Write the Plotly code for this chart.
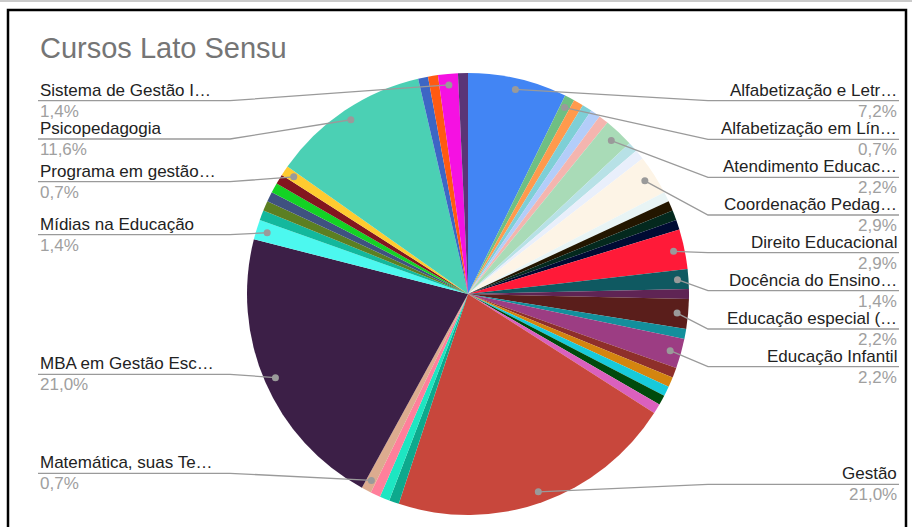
import math
import plotly.graph_objects as go

# ---------------- data ----------------
categories = [
    "Alfabetização e Letramento", "Alfabetização em Língua Portuguesa", "Análise do Comportamento",
    "Arte-Educação", "Artes Visuais", "Atendimento Clínico", "Atendimento Educacional Especializado",
    "Avaliação Educacional", "Contação de Histórias", "Coordenação Pedagógica", "Currículo e Avaliação",
    "Desenvolvimento Infantil", "Didática", "Dificuldades de Aprendizagem", "Direito Educacional",
    "Docência do Ensino Superior", "Educação a Distância", "Educação especial (Inclusiva)",
    "Educação Física", "Educação Infantil", "Educação Musical", "Ensino de Ciências",
    "Ensino de Língua Portuguesa", "Filosofia da Educação", "Geografia", "Gestão", "Gestão Escolar",
    "História", "Libras", "Matemática, suas Tecnologias", "MBA em Gestão Escolar", "Mídias na Educação",
    "Neuropsicopedagogia", "Orientação Educacional", "Pedagogia Empresarial", "Pedagogia Hospitalar",
    "Planejamento Educacional", "Programa em gestão escolar", "Psicopedagogia", "Psicopedagogia Clínica",
    "Psicopedagogia Institucional", "Sistema de Gestão Integrada", "Tecnologias Educacionais",
]
values = [
    10, 1, 1, 1, 1, 1, 3, 1, 1, 4, 1, 1, 1, 1, 4,
    2, 1, 3, 1, 3, 1, 1, 1, 1, 1, 29, 1, 1, 1, 1, 29, 2,
    1, 1, 1, 1, 1, 1, 16, 1, 1, 2, 1,
]
colors = [
    "#4285F4", "#6FBF83", "#FF9A4D", "#7ECFD6", "#B3CDF9", "#F4B5AF", "#A9DBB7", "#B7E1E6",
    "#E9EFFB", "#FDF4E6", "#E8F4F5", "#231600", "#04291E", "#000B33", "#FF1A38", "#0F5961",
    "#5F2454", "#5A1E1B", "#138F9C", "#9C3D83", "#8E2F2A", "#D4850F", "#17CADB", "#004A0C",
    "#DA60BE", "#C8473C", "#0DA98D", "#1DE6C2", "#FF7F9B", "#DCAB8F", "#3C1F47", "#4CF8EF",
    "#13B89D", "#5C7F22", "#3F5280", "#13D324", "#83161F", "#FFCB30", "#4BD0B4", "#3D66C5",
    "#FF5A12", "#F511E2", "#5A3577",
]
# labelled slices: (index, side, shown text)
label_index = [41, 38, 37, 31, 30, 29, 0, 1, 6, 9, 14, 15, 17, 19, 25]
label_side = ["L", "L", "L", "L", "L", "L", "R", "R", "R", "R", "R", "R", "R", "R", "R"]
label_text = [
    "Sistema de Gestão I…", "Psicopedagogia", "Programa em gestão…", "Mídias na Educação",
    "MBA em Gestão Esc…", "Matemática, suas Te…",
    "Alfabetização e Letr…", "Alfabetização em Lín…", "Atendimento Educac…", "Coordenação Pedag…",
    "Direito Educacional", "Docência do Ensino…", "Educação especial (…", "Educação Infantil", "Gestão",
]
title_text = "Cursos Lato Sensu"

# ---------------- layout constants (pixels) ----------------
W, H = 912, 527
CX, CY, R = 468, 294, 221
label_line_y = [100.7, 139, 181.7, 234.7, 374.3, 473.3,
                100.7, 139.3, 177.3, 215, 252.7, 290.7, 329, 366.7, 484.3]
LEFT_X, RIGHT_X = 38, 899
ELBOW_L, ELBOW_R = 230, 708
LINE_COLOR = "#9a9a9a"
FONT = "Liberation Sans, Arial, sans-serif"
FS = 17


def px(x):
    return x / W


def py(y):
    return 1 - y / H


total = sum(values)

fig = go.Figure(go.Pie(
    labels=categories, values=values,
    marker=dict(colors=colors, line=dict(width=0)),
    sort=False, direction="clockwise", rotation=0,
    textinfo="none", hoverinfo="label+value+percent",
    domain=dict(x=[px(CX - R), px(CX + R)], y=[py(CY + R), py(CY - R)]),
    showlegend=False,
))

shapes = []
annotations = []

cum = []
s = 0
for v in values:
    cum.append(s)
    s += v

for idx, side, txt, ly in zip(label_index, label_side, label_text, label_line_y):
    v = values[idx]
    mid = (cum[idx] + v / 2) / total * 2 * math.pi
    dx = CX + 0.95 * R * math.sin(mid)
    dy = CY - 0.95 * R * math.cos(mid)
    if side == "L":
        pts = [(LEFT_X, ly), (ELBOW_L, ly), (dx, dy)]
        xa, xanchor = LEFT_X, "left"
    else:
        pts = [(RIGHT_X, ly), (ELBOW_R, ly), (dx, dy)]
        xa, xanchor = RIGHT_X, "right"
    path = "M " + " L ".join(f"{px(a):.5f},{py(b):.5f}" for a, b in pts)
    shapes.append(dict(type="path", path=path, xref="paper", yref="paper",
                       line=dict(color=LINE_COLOR, width=1.3), layer="above"))
    rr = 3.5
    shapes.append(dict(type="circle", xref="paper", yref="paper",
                       x0=px(dx - rr), x1=px(dx + rr), y0=py(dy + rr), y1=py(dy - rr),
                       fillcolor=LINE_COLOR, line=dict(width=0), layer="above"))
    pct = f"{v / total * 100:.1f}".replace(".", ",") + "%"
    annotations.append(dict(text=txt, x=px(xa), y=py(ly - 10.5), xref="paper", yref="paper",
                            xanchor=xanchor, yanchor="middle", showarrow=False,
                            font=dict(family=FONT, size=FS, color="#222222")))
    annotations.append(dict(text=pct, x=px(xa), y=py(ly + 10.5), xref="paper", yref="paper",
                            xanchor=xanchor, yanchor="middle", showarrow=False,
                            font=dict(family=FONT, size=FS, color="#a0a0a0")))

annotations.append(dict(text=title_text, x=px(38), y=py(48), xref="paper", yref="paper",
                        xanchor="left", yanchor="middle", showarrow=False,
                        font=dict(family=FONT, size=29, color="#757575")))

shapes.append(dict(type="rect", xref="paper", yref="paper",
                   x0=px(8), x1=px(906), y0=py(560), y1=py(10),
                   line=dict(color="black", width=2.5), layer="above"))
shapes.append(dict(type="line", xref="paper", yref="paper",
                   x0=0, x1=1, y0=py(1), y1=py(1),
                   line=dict(color="#b8b8b8", width=1.5), layer="above"))

fig.update_layout(
    width=W, height=H, autosize=False,
    margin=dict(l=0, r=0, t=0, b=0),
    paper_bgcolor="white", plot_bgcolor="white",
    shapes=shapes, annotations=annotations,
    showlegend=False,
)

fig.write_html("out.html")
